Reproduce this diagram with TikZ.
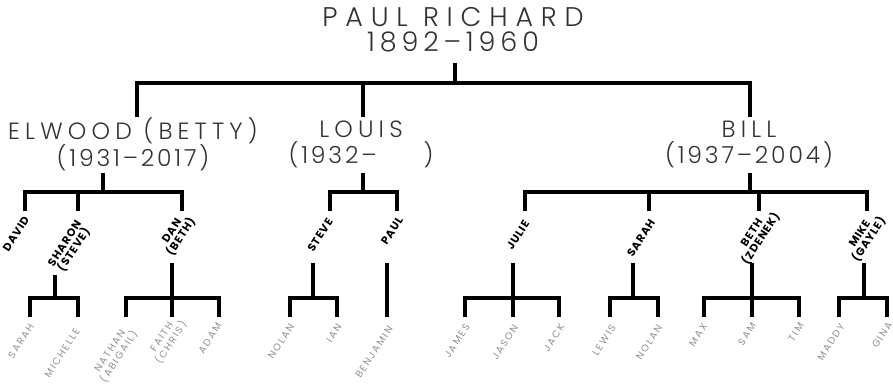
\documentclass[tikz,border=0pt]{standalone}
\usepackage{fontspec}
\setmainfont{Poppins}
\newfontfamily\titlef{Poppins Light}[LetterSpace=29]
\newfontfamily\titled{Poppins Light}[LetterSpace=18]
\newfontfamily\persf{Poppins Light}[LetterSpace=22]
\newfontfamily\persd{Poppins Light}[LetterSpace=12]
\newfontfamily\kidf{Poppins Bold}[LetterSpace=8]
\newfontfamily\grandf{Poppins}[LetterSpace=18]
\definecolor{txtdark}{HTML}{333333}
\definecolor{txtgray}{HTML}{8F8F8F}
\begin{document}
\begin{tikzpicture}[x=1pt,y=-1pt,
  ln/.style={line width=4pt,line join=miter},
  toptext/.style={inner sep=0pt,align=center,text=txtdark,font=\titlef\fontsize{27}{25}\selectfont},
  pers/.style={inner sep=0pt,align=center,text=txtdark,font=\persf\fontsize{23.5}{26}\selectfont},
  kid/.style={inner sep=0pt,align=center,rotate=57,text=black,font=\kidf\fontsize{11}{11}\selectfont},
  grand/.style={inner sep=0pt,align=center,rotate=57,text=txtgray,font=\grandf\fontsize{9.8}{11}\selectfont}]
\useasboundingbox (0,0) rectangle (893,386);

% generation 0 and 1
\node[toptext] (paul) at (453,30) {PAUL RICHARD\\{\titled 1892–1960}};
\node[pers] (elwood) at (133,144) {ELWOOD (BETTY)\\{\persd (1931–2017)}};
\node[pers] (louis) at (361,144) {LOUIS\\{\persd (1932–\hspace{2.0em})}};
\node[pers] (bill) at (749,144) {BILL\\{\persd (1937–2004)}};

\coordinate (t1) at (455,63);
\coordinate (t2) at (455,83);
\coordinate (e1) at (137,117);
\coordinate (l1) at (363,117);
\coordinate (b1) at (750,117);
\draw[ln] (t1) -- (t2);
\draw[ln] (e1) |- (t2) -| (b1);
\draw[ln] (l1) -- (l1 |- t2);

% generation 2 brackets
\coordinate (E0) at (103,173);
\coordinate (E1) at (103,192);
\coordinate (kdavid) at (25,211);
\coordinate (ksharon) at (78,211);
\coordinate (kdan) at (182,211);
\draw[ln] (E0) -- (E1);
\draw[ln] (kdavid) |- (E1) -| (kdan);
\draw[ln] (ksharon) -- (ksharon |- E1);

\coordinate (L0) at (363,173);
\coordinate (L1) at (363,192);
\coordinate (ksteve) at (330,211);
\coordinate (kpaul) at (397,211);
\draw[ln] (L0) -- (L1);
\draw[ln] (ksteve) |- (L1) -| (kpaul);

\coordinate (B0) at (750,173);
\coordinate (B1) at (750,192);
\coordinate (kjulie) at (525,211);
\coordinate (ksarah) at (649,211);
\coordinate (kbeth) at (759,211);
\coordinate (kmike) at (867,211);
\draw[ln] (B0) -- (B1);
\draw[ln] (kjulie) |- (B1) -| (kmike);
\draw[ln] (ksarah) -- (ksarah |- B1);
\draw[ln] (kbeth) -- (kbeth |- B1);

% generation 2 labels
\node[kid] (david) at (16,234) {DAVID};
\node[kid] (sharon) at (70,247) {SHARON\\(STEVE)};
\node[kid] (dan) at (177,234) {DAN\\(BETH)};
\node[kid] (steve) at (320,235) {STEVE};
\node[kid] (paulj) at (392,231) {PAUL};
\node[kid] (julie) at (518,235) {JULIE};
\node[kid] (sarah) at (641,238) {SARAH};
\node[kid] (beth) at (757,236) {BETH\\(ZDENEK)};
\node[kid] (mike) at (865,237) {MIKE\\(GAYLE)};

% generation 3 brackets
\coordinate (S0) at (55,275);
\coordinate (S1) at (55,298);
\coordinate (gsarah) at (30,317);
\coordinate (gmichelle) at (78,317);
\draw[ln] (S0) -- (S1);
\draw[ln] (gsarah) |- (S1) -| (gmichelle);

\coordinate (D0) at (172,263);
\coordinate (D1) at (172,298);
\coordinate (gnathan) at (126,317);
\coordinate (gfaith) at (172,317);
\coordinate (gadam) at (219,317);
\draw[ln] (D0) -- (gfaith);
\draw[ln] (gnathan) |- (D1) -| (gadam);

\coordinate (T0) at (313,263);
\coordinate (T1) at (313,298);
\coordinate (gnolan) at (290,317);
\coordinate (gian) at (337,317);
\draw[ln] (T0) -- (T1);
\draw[ln] (gnolan) |- (T1) -| (gian);

\coordinate (P0) at (387,263);
\coordinate (gbenjamin) at (387,317);
\draw[ln] (P0) -- (gbenjamin);

\coordinate (J0) at (513,263);
\coordinate (J1) at (513,298);
\coordinate (gjames) at (465,317);
\coordinate (gjason) at (513,317);
\coordinate (gjack) at (559,317);
\draw[ln] (J0) -- (gjason);
\draw[ln] (gjames) |- (J1) -| (gjack);

\coordinate (R0) at (633,263);
\coordinate (R1) at (633,298);
\coordinate (glewis) at (610,317);
\coordinate (gnolanb) at (658,317);
\draw[ln] (R0) -- (R1);
\draw[ln] (glewis) |- (R1) -| (gnolanb);

\coordinate (H0) at (752,263);
\coordinate (H1) at (752,298);
\coordinate (gmax) at (704,317);
\coordinate (gsam) at (752,317);
\coordinate (gtim) at (799,317);
\draw[ln] (H0) -- (gsam);
\draw[ln] (gmax) |- (H1) -| (gtim);

\coordinate (M0) at (864,263);
\coordinate (M1) at (864,298);
\coordinate (gmaddy) at (839,317);
\coordinate (ggina) at (887,317);
\draw[ln] (M0) -- (M1);
\draw[ln] (gmaddy) |- (M1) -| (ggina);

% generation 3 labels
\node[grand] (n-sarah) at (21,341) {SARAH};
\node[grand] (n-michelle) at (62,353) {MICHELLE};
\node[grand] (n-nathan) at (115,354) {NATHAN\\(ABIGAIL)};
\node[grand] (n-faith) at (167,340) {FAITH\\(CHRIS)};
\node[grand] (n-adam) at (210,338) {ADAM};
\node[grand] (n-nolan) at (281,341) {NOLAN};
\node[grand] (n-ian) at (334,333) {IAN};
\node[grand] (n-benjamin) at (374,352) {BENJAMIN};
\node[grand] (n-james) at (457,341) {JAMES};
\node[grand] (n-jason) at (505,342) {JASON};
\node[grand] (n-jack) at (554,338) {JACK};
\node[grand] (n-lewis) at (604,340) {LEWIS};
\node[grand] (n-nolanb) at (649,342) {NOLAN};
\node[grand] (n-max) at (698,335) {MAX};
\node[grand] (n-sam) at (747,334) {SAM};
\node[grand] (n-tim) at (796,332) {TIM};
\node[grand] (n-maddy) at (831,342) {MADDY};
\node[grand] (n-gina) at (882,335) {GINA};
\end{tikzpicture}
\end{document}
